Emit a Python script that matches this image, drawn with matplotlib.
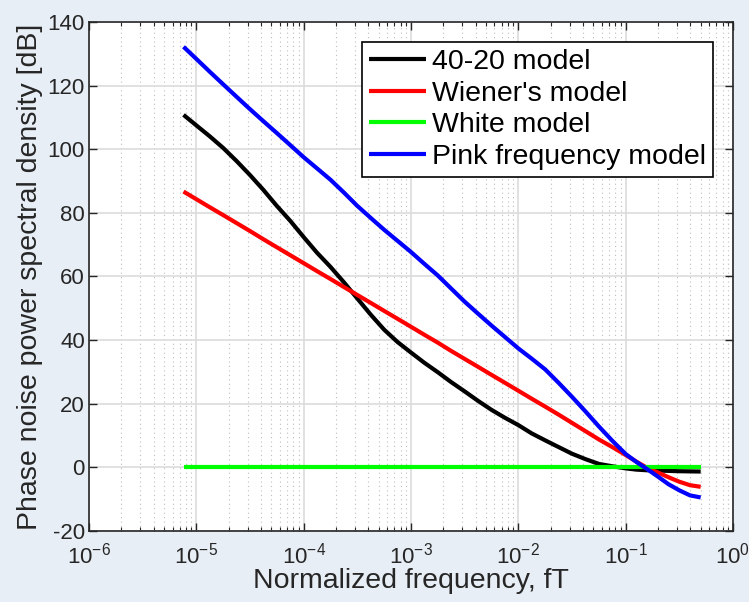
import numpy as np
import matplotlib
matplotlib.use("Agg")
import matplotlib.pyplot as plt
from matplotlib.ticker import LogLocator, NullFormatter, FixedLocator

plt.rcParams['font.family'] = ['Liberation Sans', 'DejaVu Sans']
plt.rcParams['mathtext.fontset'] = 'custom'
plt.rcParams['mathtext.rm'] = 'Liberation Sans'
plt.rcParams['mathtext.it'] = 'Liberation Sans:italic'
plt.rcParams['mathtext.bf'] = 'Liberation Sans:bold'
plt.rcParams['axes.unicode_minus'] = False

# normalized frequency points
freq = [7.6e-6, 1.0e-5, 1.33e-5, 1.78e-5, 2.37e-5, 3.16e-5, 4.22e-5, 5.62e-5,
        7.5e-5, 1.0e-4, 1.33e-4, 1.78e-4, 2.37e-4, 3.16e-4, 4.22e-4, 5.62e-4,
        7.5e-4, 1.0e-3, 1.33e-3, 1.78e-3, 2.37e-3, 3.16e-3, 4.22e-3, 5.62e-3,
        7.5e-3, 1.0e-2, 1.33e-2, 1.78e-2, 2.37e-2, 3.16e-2, 4.22e-2, 5.62e-2,
        7.5e-2, 0.1, 0.126, 0.158, 0.2, 0.251, 0.316, 0.398, 0.5]

psd_4020 = [110.8, 107.5, 104.1, 100.4, 96.3, 91.9, 87.2, 82.2,
            77.5, 72.4, 67.5, 63.0, 58.2, 53.1, 48.0, 43.3,
            39.4, 36.1, 32.9, 29.9, 26.8, 23.9, 20.9, 18.1,
            15.6, 13.3, 10.7, 8.5, 6.4, 4.3, 2.6, 1.1,
            0.35, -0.3, -0.7, -0.9, -1.0, -1.1, -1.2, -1.25, -1.3]
psd_wiener = [86.7, 84.3, 81.8, 79.3, 76.8, 74.3, 71.7, 69.2,
              66.7, 64.2, 61.7, 59.2, 56.7, 54.2, 51.7, 49.2,
              46.7, 44.2, 41.7, 39.2, 36.6, 34.1, 31.6, 29.1,
              26.6, 24.1, 21.6, 19.1, 16.6, 14.0, 11.4, 8.8,
              6.4, 3.9, 1.8, -0.1, -1.6, -3.1, -4.5, -5.6, -6.1]
psd_white = [0.0] * len(freq)
psd_pink = [132.2, 128.4, 124.4, 120.4, 116.5, 112.6, 108.8, 105.1,
            101.3, 97.5, 94.0, 90.4, 86.4, 82.2, 78.4, 74.7,
            71.2, 67.7, 64.0, 60.3, 56.2, 52.1, 48.3, 44.6,
            41.0, 37.4, 34.2, 30.8, 26.6, 22.2, 17.6, 12.9,
            8.4, 4.2, 1.7, -0.5, -2.9, -5.3, -7.2, -8.8, -9.45]

x_ticks = [1e-6, 1e-5, 1e-4, 1e-3, 1e-2, 1e-1, 1e0]
y_ticks = [-20, 0, 20, 40, 60, 80, 100, 120, 140]

labels = ['40-20 model', "Wiener's model", 'White model', 'Pink frequency model']
colors = ['#000000', '#FF0000', '#00FF00', '#0000FF']

bg = '#E8EEF5'
txt = '#262626'

fig = plt.figure(figsize=(7.49, 6.02), dpi=100, facecolor=bg)
ax = fig.add_axes([0.1188, 0.1179, 0.8598, 0.8456])

for y, lab, c in zip([psd_4020, psd_wiener, psd_white, psd_pink], labels, colors):
    ax.semilogx(freq, y, color=c, lw=3, label=lab, solid_capstyle='butt',
                solid_joinstyle='round')

ax.set_xlim(1e-6, 1)
ax.set_ylim(-20, 140)
ax.yaxis.set_major_locator(FixedLocator(y_ticks))
ax.xaxis.set_major_locator(FixedLocator(x_ticks))
ax.xaxis.set_minor_locator(LogLocator(base=10, subs=np.arange(2, 10), numticks=20))
ax.xaxis.set_minor_formatter(NullFormatter())

ax.grid(True, which='major', color='#DCDCDC', lw=1.2, ls='-')
ax.grid(True, which='minor', axis='x', color='#BEBEBE', lw=0.8, ls=(0, (1, 3)))
ax.set_axisbelow(True)

ax.tick_params(which='both', direction='in', top=True, right=True,
               colors=txt, labelsize=16)
ax.tick_params(axis='y', pad=3)
ax.tick_params(axis='x', pad=8)
ax.tick_params(which='major', length=6, width=1)
ax.tick_params(which='minor', length=3, width=0.8)
for sp in ax.spines.values():
    sp.set_color(txt)
    sp.set_linewidth(1.2)

ax.set_xlabel('Normalized frequency, fT', fontsize=20.5, color=txt, labelpad=0)
ax.set_ylabel('Phase noise power spectral density [dB]', fontsize=20.5,
              color=txt, labelpad=3)

leg = ax.legend(loc='upper right', fontsize=20.5, frameon=True, fancybox=False,
                edgecolor='#000000', framealpha=1, handlelength=2.0,
                labelspacing=0.2, borderpad=0.25, handletextpad=0.2,
                borderaxespad=0.7)
leg.get_frame().set_linewidth(1.2)

fig.savefig('out.png', dpi=100, facecolor=bg)
